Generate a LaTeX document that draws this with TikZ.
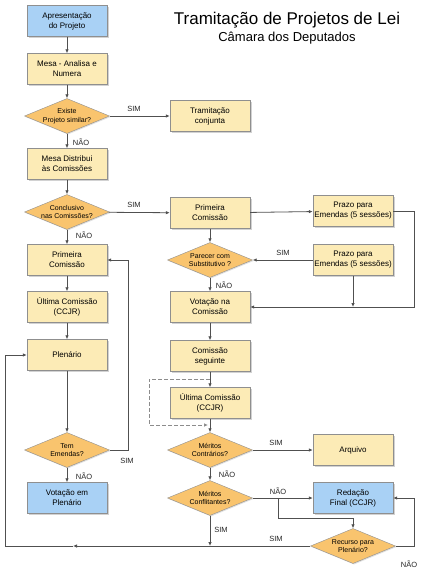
\documentclass[tikz,border=0pt]{standalone}
\usepackage{fontspec}
\setmainfont{Liberation Sans}
\usetikzlibrary{shapes.geometric,shadows,arrows.meta}
\definecolor{boxyellow}{HTML}{FCEBB6}
\definecolor{boxblue}{HTML}{A9D1F5}
\definecolor{decorange}{HTML}{F9C46E}
\definecolor{edgegray}{HTML}{8F8F8F}
\definecolor{linegray}{HTML}{505050}
\begin{document}
\begin{tikzpicture}[x=1pt,y=-1pt,
		stepbox/.style={rectangle,draw=edgegray,fill=boxyellow,minimum width=80pt,minimum height=31pt,inner sep=1pt,align=center,font=\fontsize{8}{10}\selectfont,drop shadow={shadow xshift=1.5pt,shadow yshift=-1.5pt,fill=black!35}},
		endbox/.style={stepbox,fill=boxblue},
		decision/.style={diamond,draw=edgegray,fill=decorange,aspect=2.4,minimum width=85pt,minimum height=35pt,inner sep=-1.5pt,align=center,font=\fontsize{7}{8.5}\selectfont,drop shadow={shadow xshift=1pt,shadow yshift=-1pt,fill=black!25}},
		arr/.style={draw=linegray,line width=0.8pt,-{Latex[length=4pt,width=3.5pt]}},
		lbl/.style={font=\fontsize{7.5}{9}\selectfont,text=black!85}]
	\useasboundingbox (0,0) rectangle (420,572);

	% Title
	\node[font=\fontsize{17}{19}\selectfont] (title) at (287,20) {Tramitação de Projetos de Lei};
	\node[font=\fontsize{13}{15}\selectfont] (subtitle) at (287,38) {Câmara dos Deputados};

	% Left column
	\node[endbox] (apres) at (67,21) {Apresentação\\do Projeto};
	\node[stepbox] (mesa) at (67,69) {Mesa - Analisa e\\Numera};
	\node[decision] (existe) at (67,116) {Existe\\Projeto similar?};
	\node[stepbox] (tramit) at (210,116) {Tramitação\\conjunta};
	\node[stepbox] (distrib) at (67,164) {Mesa Distribui\\às Comissões};
	\node[decision] (conclus) at (67,212) {Conclusivo\\nas Comissões?};
	\node[stepbox] (primA) at (67,260) {Primeira\\Comissão};
	\node[stepbox] (ultA) at (67,307) {Última Comissão\\(CCJR)};
	\node[stepbox] (plen) at (67,355) {Plenário};
	\node[decision] (tem) at (67,450) {Tem\\Emendas?};
	\node[endbox] (votPlen) at (67,498) {Votação em\\Plenário};

	% Middle column
	\node[stepbox] (primB) at (210,213) {Primeira\\Comissão};
	\node[decision] (parecer) at (210,260) {Parecer com\\Substitutivo ?};
	\node[stepbox] (votCom) at (210,307) {Votação na\\Comissão};
	\node[stepbox] (seguinte) at (210,356) {Comissão\\seguinte};
	\node[stepbox] (ultB) at (210,403) {Última Comissão\\(CCJR)};
	\node[decision] (contr) at (210,450) {Méritos\\Contrários?};
	\node[decision] (conflit) at (210,498) {Méritos\\Conflitantes?};

	% Right column
	\node[stepbox] (prazoA) at (353,211) {Prazo para\\Emendas (5 sessões)};
	\node[stepbox] (prazoB) at (353,260) {Prazo para\\Emendas (5 sessões)};
	\node[stepbox] (arquivo) at (353,450) {Arquivo};
	\node[endbox] (redacao) at (353,498) {Redação\\Final (CCJR)};
	\node[decision] (recurso) at (353,546) {Recurso para\\Plenário?};

	% Bends
	\coordinate (temR) at (128,450);
	\coordinate (prazoR) at (414,211);
	\coordinate (recR) at (414,546);
	\coordinate (recL) at (5,546);
	\coordinate (recMid) at (73,546);
	\coordinate (confB) at (278,498);
	\coordinate (dTop) at (210,379);
	\coordinate (dBot) at (208,425);

	% Left flow
	\draw[arr] (apres) -- (mesa);
	\draw[arr] (mesa) -- (existe);
	\draw[arr] (existe) -- (tramit);
	\draw[arr] (existe) -- (distrib);
	\draw[arr] (distrib) -- (conclus);
	\draw[arr] (conclus) -- (primB);
	\draw[arr] (conclus) -- (primA);
	\draw[arr] (primA) -- (ultA);
	\draw[arr] (ultA) -- (plen);
	\draw[arr] (plen) -- (tem);
	\draw[arr] (tem) -- (votPlen);
	\draw[arr] (tem.east) -- (temR) |- (primA.east);

	% Middle flow
	\draw[arr] (primB) -- (prazoA);
	\draw[arr] (primB) -- (parecer);
	\draw[arr] (prazoB.west) -- (parecer.east);
	\draw[arr] (parecer) -- (votCom);
	\draw[arr] (prazoA.east) -- (prazoR) |- (votCom.east);
	\draw[arr] (prazoB.south) -- (prazoB.south |- votCom.east);
	\draw[arr] (votCom) -- (seguinte);
	\draw[arr] (seguinte) -- (ultB);
	\draw[arr] (ultB) -- (contr);
	\draw[arr,draw=black!45,line width=0.7pt,dash pattern=on 4pt off 2pt] (dTop) -- (149,379) -- (149,425) -- (dBot);
	\draw[arr] (contr) -- (arquivo);
	\draw[arr] (contr) -- (conflit);
	\draw[arr] (conflit) -- (redacao);
	\draw[arr] (confB) -- (278,518) -| (recurso.north);
	\draw[arr] (conflit.south) -- (conflit.south |- recurso.west);

	% Return paths
	\draw[arr] (recurso.east) -- (recR) |- (redacao.east);
	\draw[arr] (recurso.west) -- (recMid);
	\draw[arr] (recMid) -- (recL) |- (plen.west);

	% Labels
	\node[lbl] (simA) at (134,109) {SIM};
	\node[lbl] (naoA) at (81,142) {NÃO};
	\node[lbl] (simB) at (134,205) {SIM};
	\node[lbl] (naoB) at (84,235) {NÃO};
	\node[lbl] (simC) at (127,461) {SIM};
	\node[lbl] (naoC) at (84,476) {NÃO};
	\node[lbl] (simD) at (283,253) {SIM};
	\node[lbl] (naoD) at (224,285) {NÃO};
	\node[lbl] (simE) at (276,443) {SIM};
	\node[lbl] (naoE) at (227,474) {NÃO};
	\node[lbl] (naoF) at (278,491) {NÃO};
	\node[lbl] (simF) at (221,530) {SIM};
	\node[lbl] (simG) at (276,539) {SIM};
	\node[lbl] (naoG) at (409,564) {NÃO};
\end{tikzpicture}
\end{document}
